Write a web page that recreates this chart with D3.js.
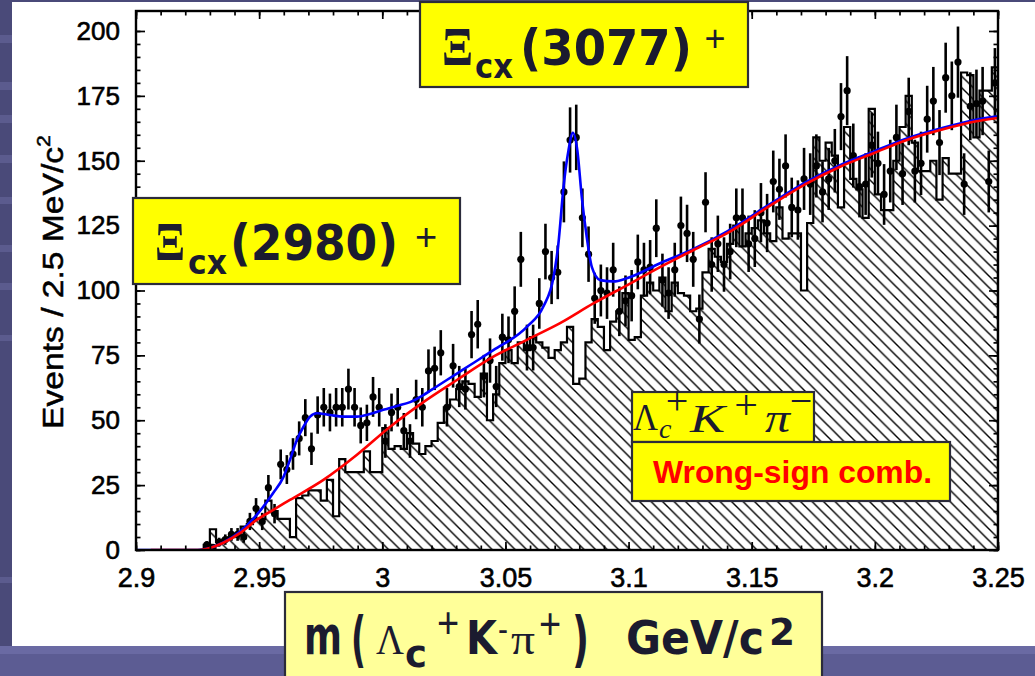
<!DOCTYPE html>
<html><head><meta charset="utf-8">
<script src="https://cdn.jsdelivr.net/npm/d3@7"></script>
<style>
body{margin:0;background:#4c4c7e;}
svg{display:block}
</style>
</head><body>
<svg id="c" width="1035" height="676"></svg>
<script>
// Λc+ K- π+ invariant mass, 2.5 MeV bins from 2.900 to 3.250 GeV/c²
const binLow = 2.9;
const binWidth = 0.0025;

// Right-sign candidates (points with √N errors), one entry per bin
const rightSignCounts = [
  0,0,0,0,0,0,0,0,0,0,
  0,2,1,3,4,6,6,5,11,16,
  11,24,14,33,31,37,43,51,39,52,
  55,53,55,55,62,55,48,49,59,55,
  42,53,55,46,42,58,55,69,70,76,
  55,71,63,62,83,87,67,73,63,82,
  81,92,112,78,78,95,115,105,107,138,
  158,159,128,114,97,100,99,108,92,96,
  98,111,108,109,124,104,99,108,125,122,
  112,89,134,110,118,110,115,128,128,118,
  120,130,126,142,139,148,132,131,143,141,
  148,138,143,150,167,177,152,140,141,156,
  149,137,146,159,145,169,146,149,166,173,
  157,182,175,188,141,171,172,173,142,180
];

// Wrong-sign combinations Λc+ K+ π- (hatched histogram)
const wrongSignCounts = [
  0,0,0,0,0,0,0,0,0,0,
  0,2,8,3,4,5,6,9,10,12,
  12,19,15,12,12,5,20,21,23,23,
  19,27,13,35,30,30,30,38,30,30,
  47,39,40,39,45,41,37,40,42,49,
  55,58,62,65,64,59,68,50,60,72,
  77,72,80,77,82,80,78,74,77,80,
  86,64,66,80,89,86,77,88,92,99,
  81,82,98,103,100,105,92,103,99,98,
  92,93,107,116,113,111,118,125,117,122,
  124,127,122,119,132,120,122,122,100,126,
  159,150,157,152,132,163,143,139,128,170,
  137,131,131,150,163,175,157,146,146,150,
  135,151,145,145,184,183,159,177,177,186
];

// Fitted total (signals + background): [mass, events/bin]
const fitTotal = [
  [2.9000,0],[2.9250,0],[2.9300,0.8],[2.9353,2.8],[2.9422,7],[2.9490,13.5],
  [2.9557,22],[2.9598,28],[2.9625,34.7],[2.9653,42.4],[2.9680,47.5],[2.9707,51.4],
  [2.9734,52.7],[2.9788,52],[2.9842,51.4],[2.9896,51.4],[2.9950,52.4],[3.0004,54],
  [3.0059,55.5],[3.0113,57],[3.0167,59.7],[3.0221,63],[3.0303,68],[3.0357,71.3],
  [3.0451,77],[3.0587,86],[3.0654,93.8],[3.0695,105],[3.0715,118],[3.0736,140],
  [3.0756,154],[3.0774,160.8],[3.0792,154],[3.0810,136],[3.0830,120.7],[3.0851,109],
  [3.0885,104],[3.0939,103.5],[3.0993,104.7],[3.1128,110.5],[3.1264,116],[3.1399,122.7],
  [3.1589,134.2],[3.1724,141.9],[3.1859,148.3],[3.1995,153.5],[3.2130,158.6],
  [3.2266,162.4],[3.2401,165.6],[3.2500,167.1]
];

// Fitted background alone: [mass, events/bin]
const fitBackground = [
  [2.9060,0],[2.9250,0],[2.9300,0.8],[2.9353,2.7],[2.9422,6.5],[2.9490,11.6],
  [2.9556,15.4],[2.9625,19.3],[2.9761,27],[2.9896,36.6],[3.0032,47.5],[3.0167,57],
  [3.0303,65.5],[3.0451,74.5],[3.0587,81],[3.0722,87.4],[3.0857,95],[3.0993,102],
  [3.1128,109],[3.1264,115.6],[3.1399,122],[3.1589,133.6],[3.1724,141.3],[3.1859,147.7],
  [3.1995,152.9],[3.2130,158],[3.2266,161.8],[3.2401,165],[3.2500,166.5]
];

const yTickValues = [0,25,50,75,100,125,150,175,200];
const xTickValues = [2.9,2.95,3.0,3.05,3.1,3.15,3.2,3.25];
const xTickLabels = ["2.9","2.95","3","3.05","3.1","3.15","3.2","3.25"];

const W = 1035, H = 676;
const svg = d3.select("#c");
const ink = "#1b1b2f";

// ---- slide background ----
svg.append("rect").attr("width", W).attr("height", H).attr("fill", "#4a4a79");
[[35,8],[82,8],[115,8],[155,8],[197,7],[245,7],[283,7],[335,6],[577,6]].forEach(([yy,h]) => {
  svg.append("rect").attr("x",0).attr("y",yy).attr("width",12).attr("height",h).attr("fill","#5b5b8e");
});
svg.append("rect").attr("x",0).attr("y",646).attr("width",W).attr("height",30).attr("fill","#5c5c93");
svg.append("rect").attr("x",0).attr("y",646).attr("width",W).attr("height",8).attr("fill","#6a6aa3");
svg.append("rect").attr("x",12).attr("y",2).attr("width",W-12).attr("height",644).attr("fill","#ffffff");

// ---- scales ----
const x = d3.scaleLinear().domain([2.9, 3.25]).range([136, 998]);
const y = d3.scaleLinear().domain([0, 207.7]).range([550, 11]);

const defs = svg.append("defs");
const hatch = defs.append("pattern").attr("id","hatch").attr("patternUnits","userSpaceOnUse")
  .attr("width",11.5).attr("height",11.5);
hatch.append("path").attr("d","M0,0 L11.5,11.5 M-2,9.5 L2,13.5 M9.5,-2 L13.5,2")
  .attr("stroke","#000").attr("stroke-width",1.4);
defs.append("clipPath").attr("id","frame").append("rect")
  .attr("x",136).attr("y",11).attr("width",862).attr("height",539);

const plot = svg.append("g").attr("clip-path","url(#frame)");

// ---- wrong-sign histogram ----
const stepPts = [[binLow, 0]];
wrongSignCounts.forEach((v, i) => {
  stepPts.push([binLow + i*binWidth, v]);
  stepPts.push([binLow + (i+1)*binWidth, v]);
});
stepPts.push([binLow + wrongSignCounts.length*binWidth, 0]);
const stepLine = d3.line().x(d => x(d[0])).y(d => y(d[1]));
plot.append("path").attr("d", stepLine(stepPts) + "Z")
  .attr("fill","url(#hatch)").attr("stroke","#000").attr("stroke-width",2.2)
  .attr("stroke-linejoin","miter");

// ---- right-sign data points ----
const pts = rightSignCounts.map((v,i) => ({m: binLow + (i+0.5)*binWidth, v})).filter(d => d.v > 0);
plot.append("g").selectAll("line").data(pts).join("line")
  .attr("x1", d => x(d.m)).attr("x2", d => x(d.m))
  .attr("y1", d => y(d.v - Math.sqrt(d.v))).attr("y2", d => y(d.v + Math.sqrt(d.v)))
  .attr("stroke","#000").attr("stroke-width",2.6);
plot.append("g").selectAll("circle").data(pts).join("circle")
  .attr("cx", d => x(d.m)).attr("cy", d => y(d.v)).attr("r",3.6).attr("fill","#000");

// ---- fit curves ----
const curve = d3.line().x(d => x(d[0])).y(d => y(d[1])).curve(d3.curveMonotoneX);
plot.append("path").attr("d", curve(fitTotal)).attr("fill","none")
  .attr("stroke","#0000ff").attr("stroke-width",2.6);
plot.append("path").attr("d", curve(fitBackground)).attr("fill","none")
  .attr("stroke","#ff0000").attr("stroke-width",2.6);

// ---- axes ----
const yMinor = d3.range(0, 41).map(i => i*5);
const xMinor = d3.range(0, 36).map(i => 2.9 + i*0.01);
function styleAxis(g){ g.select(".domain").remove(); g.selectAll(".tick line").attr("stroke","#000").attr("stroke-width",1.7); }

svg.append("g").attr("transform","translate(136,0)")
  .call(d3.axisLeft(y).tickValues(yMinor).tickSize(-4.5).tickFormat("")).call(styleAxis);
svg.append("g").attr("transform","translate(998,0)")
  .call(d3.axisRight(y).tickValues(yMinor).tickSize(-4.5).tickFormat("")).call(styleAxis);
svg.append("g").attr("transform","translate(998,0)")
  .call(d3.axisRight(y).tickValues(yTickValues).tickSize(-9).tickFormat("")).call(styleAxis);
const yAx = svg.append("g").attr("transform","translate(136,0)")
  .call(d3.axisLeft(y).tickValues(yTickValues).tickSize(-9).tickPadding(16).tickFormat(d3.format("d")))
  .call(styleAxis);
yAx.selectAll("text").attr("font-family","'Liberation Sans', Arial, sans-serif").attr("font-size",26)
  .attr("fill","#000").attr("stroke","#000").attr("stroke-width",0.6);

svg.append("g").attr("transform","translate(0,11)")
  .call(d3.axisTop(x).tickValues(xMinor).tickSize(-4.5).tickFormat("")).call(styleAxis);
svg.append("g").attr("transform","translate(0,11)")
  .call(d3.axisTop(x).tickValues(xTickValues).tickSize(-8).tickFormat("")).call(styleAxis);
svg.append("g").attr("transform","translate(0,550)")
  .call(d3.axisBottom(x).tickValues(xMinor).tickSize(-4.5).tickFormat("")).call(styleAxis);
const xAx = svg.append("g").attr("transform","translate(0,550)")
  .call(d3.axisBottom(x).tickValues(xTickValues).tickSize(-8).tickPadding(18)
    .tickFormat((d,i) => xTickLabels[i]))
  .call(styleAxis);
xAx.selectAll("text").attr("font-family","'Liberation Sans', Arial, sans-serif").attr("font-size",27)
  .attr("fill","#000").attr("stroke","#000").attr("stroke-width",0.6);

// frame
svg.append("rect").attr("x",136).attr("y",11).attr("width",862).attr("height",539)
  .attr("fill","none").attr("stroke","#000").attr("stroke-width",2.4);

// y-axis title
const yt = svg.append("text").attr("transform","translate(63,282) rotate(-90) scale(1.12,1)")
  .attr("text-anchor","middle").attr("font-family","'Liberation Sans', Arial, sans-serif")
  .attr("font-size",30).attr("fill","#000").attr("stroke","#000").attr("stroke-width",0.5);
yt.append("tspan").text("Events / 2.5 MeV/c");
yt.append("tspan").attr("font-size",19).attr("dy",-13).text("2");

// ---- labelled boxes ----
function box(x0,y0,w,h,fill){
  svg.append("rect").attr("x",x0).attr("y",y0).attr("width",w).attr("height",h)
    .attr("fill",fill).attr("stroke","#2b2b3a").attr("stroke-width",2.2);
}
function txt(parent, s, x0, base, o){
  const t = parent.append("text").attr("x",x0).attr("y",base).text(s)
    .attr("font-family", o.family || "'DejaVu Sans', Verdana, sans-serif")
    .attr("font-size", o.size).attr("font-weight", o.weight || "bold")
    .attr("fill", o.fill || ink);
  if (o.italic) t.attr("font-style","italic");
  if (o.anchor) t.attr("text-anchor", o.anchor);
  if (o.len) t.attr("textLength", o.len).attr("lengthAdjust","spacingAndGlyphs");
  return t;
}
const serif = "'Liberation Serif', 'Times New Roman', serif";
const sans = "'Liberation Sans', Arial, sans-serif";

// Ξcx(3077)+
box(420, 2, 328, 85, "#ffff00");
txt(svg, "Ξ", 442, 65, {family: serif, size: 54, len: 31});
txt(svg, "cx", 475, 78, {size: 34, len: 38});
txt(svg, "(3077)", 520, 65, {size: 50, len: 172});
txt(svg, "+", 715, 51, {family: sans, size: 36, weight: "normal", anchor: "middle"});

// Ξcx(2980)+
box(133, 198, 327, 86, "#ffff00");
txt(svg, "Ξ", 155, 260, {family: serif, size: 54, len: 30});
txt(svg, "cx", 188, 274, {size: 34, len: 39});
txt(svg, "(2980)", 230, 260, {size: 50, len: 168});
txt(svg, "+", 426, 250, {family: sans, size: 38, weight: "normal", anchor: "middle"});

// Λc+ K+ π-  (superscript stacked over the subscript)
box(632, 392, 182, 50, "#ffff00");
txt(svg, "Λ", 633, 430, {family: serif, size: 38, weight: "normal", len: 25});
txt(svg, "c", 659, 438, {family: serif, size: 28, weight: "normal", italic: true});
txt(svg, "+", 677, 414, {family: serif, size: 40, weight: "normal", anchor: "middle"});
txt(svg, "K", 690, 432, {family: serif, size: 40, weight: "normal", italic: true, len: 35});
txt(svg, "+", 746, 419, {family: serif, size: 42, weight: "normal", anchor: "middle"});
txt(svg, "π", 765, 432, {family: serif, size: 40, weight: "normal", italic: true, len: 25});
txt(svg, "−", 801, 414, {family: serif, size: 40, weight: "normal", anchor: "middle"});

// Wrong-sign comb.
box(632, 442, 318, 59, "#ffff00");
txt(svg, "Wrong-sign comb.", 653, 483, {family: sans, size: 32, fill: "#ff0000", len: 279});

// x-axis title (slightly stretched vertically about its baseline)
box(285, 592, 537, 110, "#ffff99");
const xt = svg.append("g").attr("transform","translate(0,654) scale(1,1.15) translate(0,-654)");
txt(xt, "m", 304, 654, {size: 46, len: 38});
txt(xt, "(", 351, 659, {size: 52, len: 15});
txt(xt, "Λ", 376, 654, {family: serif, size: 36, weight: "normal", len: 28});
txt(xt, "c", 405, 665, {size: 32, len: 22});
txt(xt, "+", 448, 640, {family: sans, size: 38, weight: "normal", anchor: "middle"});
txt(xt, "K", 466, 654, {size: 40, len: 31});
txt(xt, "-", 498, 643, {family: sans, size: 30, weight: "normal", len: 10});
txt(xt, "π", 511, 654, {family: serif, size: 38, weight: "normal", len: 24});
txt(xt, "+", 550, 641, {family: sans, size: 38, weight: "normal", anchor: "middle"});
txt(xt, ")", 572, 659, {size: 52, len: 17});
txt(xt, "GeV/c", 626, 654, {size: 40, len: 138});
txt(xt, "2", 769, 646, {size: 32, len: 26});
</script>
</body></html>
